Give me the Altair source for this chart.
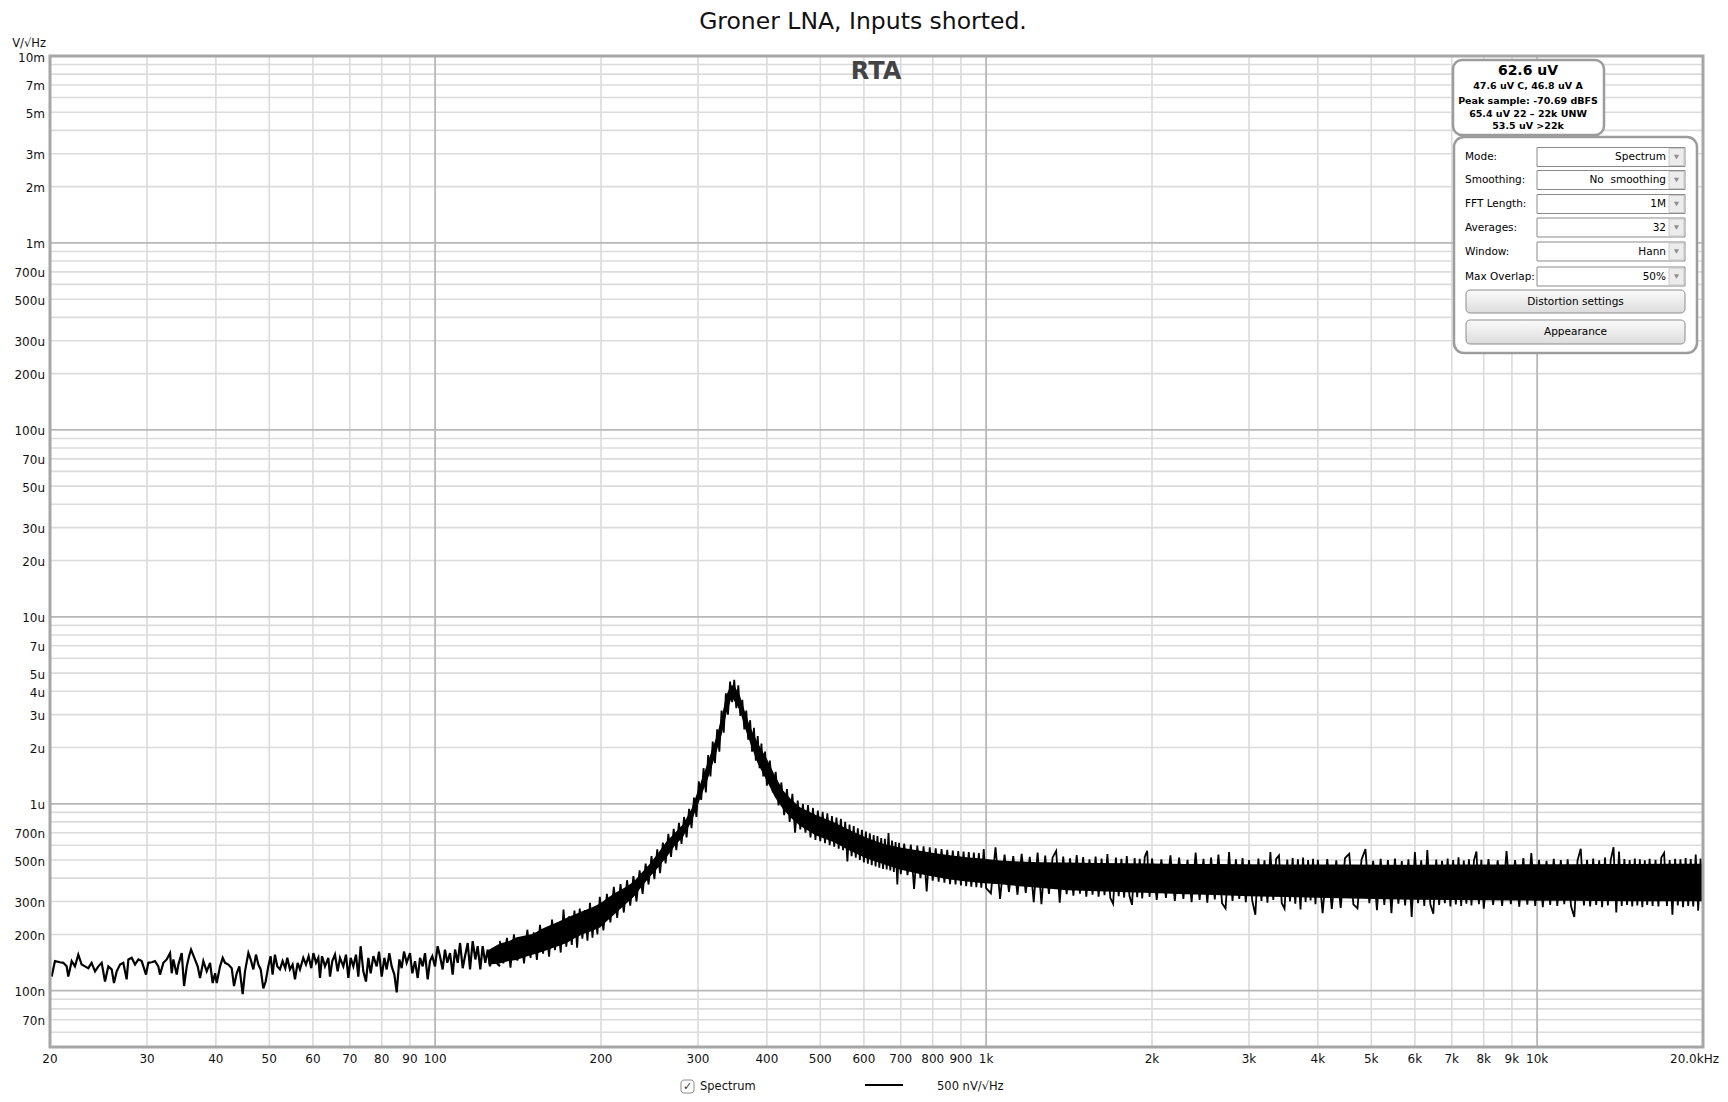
import altair as alt
import pandas as pd

FONT = "DejaVu Sans"

# ---------------- data (frequency in Hz, noise density in nV/sqrt(Hz)) ----------------
low_freq = [
    20.14, 20.42, 20.85, 21.15, 21.44, 21.59, 21.90, 22.20, 22.51, 22.83,
    23.15, 23.47, 23.80, 24.14, 24.48, 24.82, 25.17, 25.52, 25.88, 26.13,
    26.43, 26.80, 27.17, 27.55, 27.75, 28.14, 28.53, 28.93, 29.34, 29.87,
    30.16, 30.59, 31.02, 31.45, 31.67, 32.12, 32.57, 33.03, 33.26, 33.49,
    33.96, 34.20, 34.68, 35.02, 35.42, 35.76, 36.06, 36.56, 37.07, 37.44,
    37.96, 38.50, 39.04, 39.47, 39.87, 40.14, 40.71, 41.16, 41.56, 42.15,
    42.74, 43.15, 43.64, 44.12, 44.74, 45.18, 45.82, 46.26, 46.78, 47.30,
    47.77, 48.24, 48.77, 49.25, 49.80, 50.28, 50.70, 51.20, 51.70, 52.28,
    52.87, 53.46, 53.91, 54.51, 55.12, 55.67, 56.29, 56.85, 57.64, 58.29,
    58.94, 59.60, 60.12, 60.79, 61.38, 61.81, 62.33, 63.11, 64.00, 64.45,
    65.07, 65.80, 66.54, 67.19, 68.14, 68.90, 69.58, 70.26, 71.05, 71.84,
    72.54, 73.25, 74.07, 74.90, 75.64, 76.38, 77.25, 78.33, 79.09, 79.99,
    80.88, 81.67, 82.58, 83.39, 84.34, 85.16, 86.11, 86.95, 87.80, 88.78,
    90.03, 90.91, 91.94, 92.97, 93.89, 94.93, 95.86, 96.93, 97.88, 98.83,
    99.94, 101.05, 102.05, 103.19, 104.20, 105.22, 106.42, 107.60, 108.68, 109.89,
    110.98, 112.21, 113.30, 114.59, 115.70, 116.99, 118.31, 119.46, 120.79, 121.97,
    123.33, 124.55, 125.77, 127.16, 129.31, 131.14,
]
low_val = [
    119, 144, 142, 141, 135, 119, 144, 135, 156, 138,
    135, 132, 141, 127, 135, 141, 112, 135, 130, 110,
    127, 138, 141, 115, 147, 150, 138, 147, 144, 122,
    141, 142, 144, 135, 122, 141, 147, 159, 124, 147,
    122, 138, 159, 106, 135, 153, 166, 150, 135, 117,
    144, 127, 141, 110, 124, 110, 135, 150, 141, 138,
    132, 106, 124, 135, 96, 127, 159, 147, 130, 156,
    138, 130, 103, 112, 135, 153, 122, 156, 135, 130,
    144, 132, 150, 130, 138, 115, 141, 130, 150, 138,
    153, 132, 159, 141, 150, 117, 153, 135, 150, 119,
    144, 156, 127, 150, 135, 156, 117, 150, 135, 156,
    119, 173, 127, 112, 150, 124, 153, 135, 162, 119,
    150, 130, 159, 135, 122, 98, 147, 132, 162, 141,
    159, 124, 144, 117, 150, 135, 159, 115, 144, 153,
    135, 173, 153, 130, 166, 141, 159, 122, 166, 141,
    180, 132, 153, 180, 130, 184, 147, 173, 130, 173,
    141, 166, 135, 169, 141, 135,
]

# dense part of the trace, read as alternating upper / lower excursions
noise_freq = [
    131, 133, 135, 137, 139, 141, 143, 145, 147, 149, 151, 153, 155, 157, 159, 161, 163, 165,
    167, 169, 171, 173, 175, 177, 179, 181, 183, 185, 187, 189, 191, 193, 195, 197, 199,
    202, 205, 208, 211, 214, 217, 220, 223, 226, 229, 232, 235, 238, 241, 244, 247, 250,
    253, 256, 259, 262, 265, 268, 271, 274, 277, 280, 283, 286, 289, 292, 295, 298,
    301, 304, 307, 310, 313, 316, 319, 322, 325, 328, 331, 334, 337, 340, 343, 346, 349,
    352, 355, 358, 361, 364, 367, 370, 373, 376, 379, 382, 385, 388, 391, 394, 397, 400,
    405, 410, 415, 420, 425, 430, 435, 440, 445, 450, 455, 460, 465, 470, 475, 480, 485,
    490, 495, 500, 505, 510, 515, 520, 525, 530, 535, 540, 545, 550, 555, 560, 565, 570,
    575, 580, 585, 590, 595, 600, 605, 610, 615, 620, 625, 630, 635, 640, 645, 650, 655,
    660, 665, 670, 675, 680, 685, 690, 695, 700,
    710, 720, 730, 740, 750, 760, 770, 780, 790, 800, 810, 820, 830, 840, 850, 860, 870,
    880, 890, 900, 910, 920, 930, 940, 950, 960, 970, 980, 990, 1000,
    1020, 1040, 1060, 1080, 1100, 1120, 1140, 1160, 1180, 1200, 1220, 1240, 1260, 1280,
    1300, 1320, 1340, 1360, 1380, 1400, 1420, 1440, 1460, 1480, 1500, 1520, 1540, 1560,
    1580, 1600, 1620, 1640, 1660, 1680, 1700, 1720, 1740, 1760, 1780, 1800, 1820, 1840,
    1860, 1880, 1900, 1920, 1940, 1960, 1980, 2000,
    2040, 2080, 2120, 2160, 2200, 2240, 2280, 2320, 2360, 2400, 2440, 2480, 2520, 2560,
    2600, 2640, 2680, 2720, 2760, 2800, 2840, 2880, 2920, 2960, 3000, 3040, 3080, 3120,
    3160, 3200, 3240, 3280, 3320, 3360, 3400, 3440, 3480, 3520, 3560, 3600, 3640, 3680,
    3720, 3760, 3800, 3840, 3880, 3920, 3960, 4000,
    4080, 4160, 4240, 4320, 4400, 4480, 4560, 4640, 4720, 4800, 4880, 4960, 5040, 5120,
    5200, 5280, 5360, 5440, 5520, 5600, 5680, 5760, 5840, 5920, 6000, 6080, 6160, 6240,
    6320, 6400, 6480, 6560, 6640, 6720, 6800, 6880, 6960, 7040, 7120, 7200, 7280, 7360,
    7440, 7520, 7600, 7680, 7760, 7840, 7920, 8000,
    8160, 8320, 8480, 8640, 8800, 8960, 9120, 9280, 9440, 9600, 9760, 9920, 10080, 10240,
    10400, 10560, 10720, 10880, 11040, 11200, 11360, 11520, 11680, 11840, 12000, 12160,
    12320, 12480, 12640, 12800, 12960, 13120, 13280, 13440, 13600, 13760, 13920, 14080,
    14240, 14400, 14560, 14720, 14880, 15040, 15200, 15360, 15520, 15680, 15840, 16000,
    16200, 16400, 16600, 16800, 17000, 17200, 17400, 17600, 17800, 18000, 18200, 18400,
    18600, 18800, 19000, 19200, 19400, 19600, 19800, 20000,
]
noise_val = [
    185, 140, 192, 133, 200, 145, 190, 140, 212, 150, 205, 146, 225, 158, 215, 152, 240, 165,
    232, 160, 272, 172, 250, 176, 268, 170, 275, 190, 270, 185, 295, 192, 282, 200, 318,
    210, 330, 232, 360, 245, 372, 262, 390, 285, 410, 300, 440, 330, 478, 370, 525, 395,
    570, 425, 620, 480, 690, 520, 735, 565, 790, 610, 850, 660, 940, 740, 1080, 850,
    1320, 1050, 1550, 1150, 1820, 1400, 2150, 1650, 2500, 1900, 3150, 2400, 3900, 3000, 4500, 3500, 4600,
    3250, 4300, 2950, 3600, 2500, 3150, 2200, 2800, 1900, 2550, 1700, 2300, 1550, 2100, 1400, 1900, 1250,
    1700, 1150, 1480, 980, 1300, 870, 1200, 800, 1130, 700, 1040, 730, 1000, 700, 985, 660, 950,
    640, 920, 630, 905, 615, 890, 600, 860, 590, 845, 575, 830, 565, 800, 492, 775, 525,
    760, 515, 740, 500, 725, 485, 710, 478, 695, 470, 680, 462, 672, 455, 655, 448, 650,
    445, 698, 440, 635, 432, 625, 370, 618, 420,
    612, 415, 605, 350, 598, 400, 592, 340, 585, 388, 578, 383, 572, 378, 568, 372, 562,
    370, 558, 366, 555, 362, 552, 360, 548, 358, 545, 356, 573, 354,
    332, 585, 310, 535, 338, 525, 326, 540, 334, 520, 298, 548, 290, 528,
    330, 515, 560, 296, 522, 328, 510, 322, 532, 330, 518, 318, 505, 326,
    522, 318, 510, 324, 538, 314, 292, 515, 320, 507, 315, 525, 322, 288,
    512, 316, 508, 312, 520, 560, 317, 510,
    306, 505, 314, 530, 302, 515, 310, 502, 298, 548, 306, 508, 296, 516,
    308, 535, 294, 275, 552, 302, 504, 310, 512, 298, 500, 304, 255, 510,
    302, 498, 296, 552, 306, 507, 530, 294, 275, 503, 300, 512, 292, 505,
    272, 515, 298, 500, 304, 508, 290, 502,
    260, 506, 274, 498, 277, 512, 540, 290, 276, 502, 572, 294, 495, 270,
    508, 288, 500, 260, 510, 292, 494, 286, 505, 248, 552, 294, 498, 284,
    565, 290, 258, 503, 288, 496, 294, 510, 282, 500, 289, 518, 284, 497,
    292, 505, 286, 498, 556, 290, 502, 275,
    506, 288, 498, 284, 558, 290, 500, 282, 512, 289, 545, 284, 502, 280,
    496, 288, 508, 284, 500, 290, 504, 284, 248, 498, 575, 286,
    502, 282, 510, 288, 498, 280, 515, 286, 500, 585, 262, 556,
    284, 506, 288, 500, 282, 510, 286, 504, 280, 498, 288, 508,
    284, 502, 282, 515, 546, 284, 500, 255, 508, 286, 504, 280,
    512, 284, 506, 282, 535, 268, 510, 284,
]

# solid core of the dense trace (upper / lower edge)
band_freq = [125, 131, 136, 140.6, 145, 150.7, 156, 161.6, 167, 173.3,
             179, 185.8, 192, 199.2, 206, 213.6, 221, 229, 237, 245.5,
             254, 263.2, 272, 282, 292, 302.5, 313, 324.4, 331, 338.2,
             342, 345.5, 350, 357.7, 365, 372.9, 385, 400, 414, 428.5,
             443, 459.4, 490, 528.2, 565, 607, 650, 697.4, 750, 802,
             860, 922, 990, 1060, 1150, 1250, 1400, 1600, 1800, 2000,
             2300, 2600, 3000, 3500, 4000, 4600, 5300, 6000, 7000, 8000,
             9000, 10000, 11500, 13000, 15000, 17000, 20000]
band_hi = [165, 179, 184, 193, 197, 202, 214, 224, 233, 246,
           256, 268, 278, 293, 315, 337, 357, 381, 428, 479,
           545, 630, 696, 780, 940, 1269, 1692, 2303, 2914, 3854,
           4136, 4324, 4230, 3760, 3102, 2585, 2115, 1739, 1410, 1175,
           1053, 959, 874, 799, 724, 658, 611, 583, 564, 545,
           531, 517, 508, 498, 491, 487, 485, 482, 480, 479,
           477, 476, 475, 474, 474, 473, 472, 472, 473, 474,
           474, 475, 475, 476, 477, 478, 478]
band_lo = [138, 140, 144, 146, 151, 156, 161, 167, 173, 180,
           191, 201, 208, 218, 239, 263, 288, 316, 360, 408,
           456, 519, 594, 668, 806, 1060, 1378, 1908, 2332, 3074,
           3392, 3710, 3498, 3127, 2544, 2120, 1643, 1325, 1081, 933,
           837, 763, 678, 625, 562, 509, 477, 445, 424, 408,
           394, 384, 376, 371, 362, 355, 345, 340, 336, 333,
           328, 325, 320, 317, 314, 311, 309, 307, 306, 305,
           304, 303, 303, 302, 301, 301, 301]

# axes
x_ticks = [20, 30, 40, 50, 60, 70, 80, 90, 100, 200, 300, 400, 500, 600, 700, 800, 900,
           1000, 2000, 3000, 4000, 5000, 6000, 7000, 8000, 9000, 10000]
x_tick_labels = ["20", "30", "40", "50", "60", "70", "80", "90", "100", "200", "300", "400",
                 "500", "600", "700", "800", "900", "1k", "2k", "3k", "4k", "5k", "6k", "7k",
                 "8k", "9k", "10k"]
x_last_tick = [20000]
x_last_label = ["20.0kHz"]
y_ticks = [1e7, 7e6, 5e6, 3e6, 2e6, 1e6, 7e5, 5e5, 3e5, 2e5, 1e5, 7e4, 5e4, 3e4, 2e4,
           1e4, 7e3, 5e3, 4e3, 3e3, 2e3, 1e3, 700, 500, 300, 200, 100, 70]
y_tick_labels = ["10m", "7m", "5m", "3m", "2m", "1m", "700u", "500u", "300u", "200u",
                 "100u", "70u", "50u", "30u", "20u", "10u", "7u", "5u", "4u", "3u", "2u",
                 "1u", "700n", "500n", "300n", "200n", "100n", "70n"]
x_grid_minor = [30, 40, 50, 60, 70, 80, 90, 200, 300, 400, 500, 600, 700, 800, 900,
                2000, 3000, 4000, 5000, 6000, 7000, 8000, 9000]
x_grid_major = [100, 1000, 10000]
y_grid_minor = [60, 70, 80, 90] + [m * d for d in [100, 1e3, 1e4, 1e5, 1e6] for m in range(2, 10)]
y_grid_major = [100, 1e3, 1e4, 1e5, 1e6]

# ---------------- chart ----------------
W, H = 1653, 991
xs = alt.Scale(type="log", domain=[20, 20000], nice=False)
ys = alt.Scale(type="log", domain=[50, 1e7], nice=False)


def XF(f):
    return alt.X(f, type="quantitative", scale=xs, axis=None)


def YF(f):
    return alt.Y(f, type="quantitative", scale=ys, axis=None)


one = pd.DataFrame({"k": [0]})


def txt(s, x, y, size=11, weight="normal", align="left", color="#000000"):
    return alt.Chart(one).mark_text(
        text=s, fontSize=size, fontWeight=weight, align=align, baseline="middle",
        color=color, font=FONT
    ).encode(x=alt.value(x), y=alt.value(y))


def box(x1, y1, x2, y2, fill="white", stroke="#9c9c9c", sw=2.0, r=0):
    return alt.Chart(one).mark_rect(
        fill=fill, stroke=stroke, strokeWidth=sw, cornerRadius=r
    ).encode(x=alt.value(x1), x2=alt.value(x2), y=alt.value(y1), y2=alt.value(y2))


layers = []

# grid
layers.append(alt.Chart(pd.DataFrame({"f": x_grid_minor})).mark_rule(color="#dbdbdb", strokeWidth=1.6)
              .encode(x=XF("f"), y=alt.value(0), y2=alt.value(H)))
layers.append(alt.Chart(pd.DataFrame({"v": y_grid_minor})).mark_rule(color="#dbdbdb", strokeWidth=1.6)
              .encode(y=YF("v"), x=alt.value(0), x2=alt.value(W)))
layers.append(alt.Chart(pd.DataFrame({"f": x_grid_major})).mark_rule(color="#b8b8b8", strokeWidth=1.8)
              .encode(x=XF("f"), y=alt.value(0), y2=alt.value(H)))
layers.append(alt.Chart(pd.DataFrame({"v": y_grid_major})).mark_rule(color="#b8b8b8", strokeWidth=1.8)
              .encode(y=YF("v"), x=alt.value(0), x2=alt.value(W)))

# trace
band_df = pd.DataFrame({"f": band_freq, "hi": band_hi, "lo": band_lo})
layers.append(alt.Chart(band_df).mark_area(color="black", interpolate="linear")
              .encode(x=XF("f"), y=YF("hi"), y2="lo:Q"))
layers.append(alt.Chart(pd.DataFrame({"f": noise_freq, "v": noise_val}))
              .mark_line(color="black", strokeWidth=1.8, interpolate="linear")
              .encode(x=XF("f"), y=YF("v")))
layers.append(alt.Chart(pd.DataFrame({"f": low_freq, "v": low_val}))
              .mark_line(color="black", strokeWidth=2.2, interpolate="linear")
              .encode(x=XF("f"), y=YF("v")))

# frame
layers.append(alt.Chart(one).mark_rect(fillOpacity=0, stroke="#a6a6a6", strokeWidth=3)
              .encode(x=alt.value(0), x2=alt.value(W), y=alt.value(0), y2=alt.value(H)))

# tick labels
layers.append(alt.Chart(pd.DataFrame({"f": x_ticks, "t": x_tick_labels})).mark_text(
    fontSize=12, font=FONT, align="center", baseline="middle", color="#111111")
    .encode(x=XF("f"), y=alt.value(H + 12), text="t:N"))
layers.append(alt.Chart(pd.DataFrame({"f": x_last_tick, "t": x_last_label})).mark_text(
    fontSize=12, font=FONT, align="right", baseline="middle", color="#111111", dx=16)
    .encode(x=XF("f"), y=alt.value(H + 12), text="t:N"))
layers.append(alt.Chart(pd.DataFrame({"v": y_ticks, "t": y_tick_labels})).mark_text(
    fontSize=12, font=FONT, align="right", baseline="middle", color="#111111", dy=1.5)
    .encode(x=alt.value(-5), y=YF("v"), text="t:N"))
layers.append(txt("V/\u221aHz", -4, -12, size=11.5, align="right", color="#111111"))

# titles
layers.append(txt("Groner LNA, Inputs shorted.", 813, -34, size=23.5, align="center", color="#111111"))
layers.append(txt("RTA", 826, 16, size=24, weight="bold", align="center", color="#444444"))

# info box
layers.append(box(1403, 4, 1554, 79, r=9, sw=2.5))
layers.append(txt("62.6 uV", 1478, 15, size=14, weight="bold", align="center"))
layers.append(txt("47.6 uV C, 46.8 uV A", 1478, 30, size=9.5, weight="bold", align="center"))
layers.append(txt("Peak sample: -70.69 dBFS", 1478, 45, size=9.5, weight="bold", align="center"))
layers.append(txt("65.4 uV 22 \u2013 22k UNW", 1478, 57.5, size=9.5, weight="bold", align="center"))
layers.append(txt("53.5 uV >22k", 1478, 70, size=9.5, weight="bold", align="center"))

# settings panel
layers.append(box(1404, 81, 1647, 297, r=10, sw=2.5))
rows = [("Mode:", "Spectrum", 101), ("Smoothing:", "No\u00a0 smoothing", 124),
        ("FFT Length:", "1M", 148), ("Averages:", "32", 171.5),
        ("Window:", "Hann", 195.5), ("Max Overlap:", "50%", 220.5)]
for lab, val, yy in rows:
    layers.append(txt(lab, 1415, yy, size=10.5))
    layers.append(box(1487, yy - 9.5, 1635, yy + 9.5, stroke="#8a8a8a", sw=1))
    layers.append(box(1619, yy - 8.5, 1634, yy + 8.5, fill="#ececec", stroke="#c0c0c0", sw=0.8))
    layers.append(txt(val, 1616, yy, size=10.5, align="right"))
    layers.append(alt.Chart(one).mark_point(shape="triangle-down", filled=True, size=28, color="#666666")
                  .encode(x=alt.value(1626.5), y=alt.value(yy)))

btn_fill = alt.LinearGradient(gradient="linear", x1=0, x2=0, y1=0, y2=1,
                              stops=[alt.GradientStop(color="#fbfbfb", offset=0),
                                     alt.GradientStop(color="#dcdcdc", offset=1)])
layers.append(box(1416, 234, 1635, 257, fill=btn_fill, stroke="#8c8c8c", sw=1, r=4))
layers.append(txt("Distortion settings", 1525.5, 245.5, size=10.5, align="center"))
layers.append(box(1416, 264, 1635, 288, fill=btn_fill, stroke="#8c8c8c", sw=1, r=4))
layers.append(txt("Appearance", 1525.5, 276, size=10.5, align="center"))

# legend
layers.append(box(631, 1024, 644, 1037, stroke="#8a8a8a", sw=1, r=3))
layers.append(txt("\u2713", 637.5, 1030.5, size=11, align="center", color="#333333"))
layers.append(txt("Spectrum", 650, 1031, size=11.5, color="#111111"))
layers.append(alt.Chart(one).mark_rule(color="black", strokeWidth=2)
              .encode(x=alt.value(815), x2=alt.value(853), y=alt.value(1029)))
layers.append(txt("500 nV/\u221aHz", 887, 1031, size=11.5, color="#111111"))

chart = alt.layer(*layers).properties(
    width=W, height=H,
    autosize=alt.AutoSizeParams(type="none"),
    padding={"left": 42, "top": 48, "right": 17, "bottom": 47},
    background="white",
).configure_view(strokeWidth=0)

chart.save("out.html", embed_options={"renderer": "svg", "actions": False})
